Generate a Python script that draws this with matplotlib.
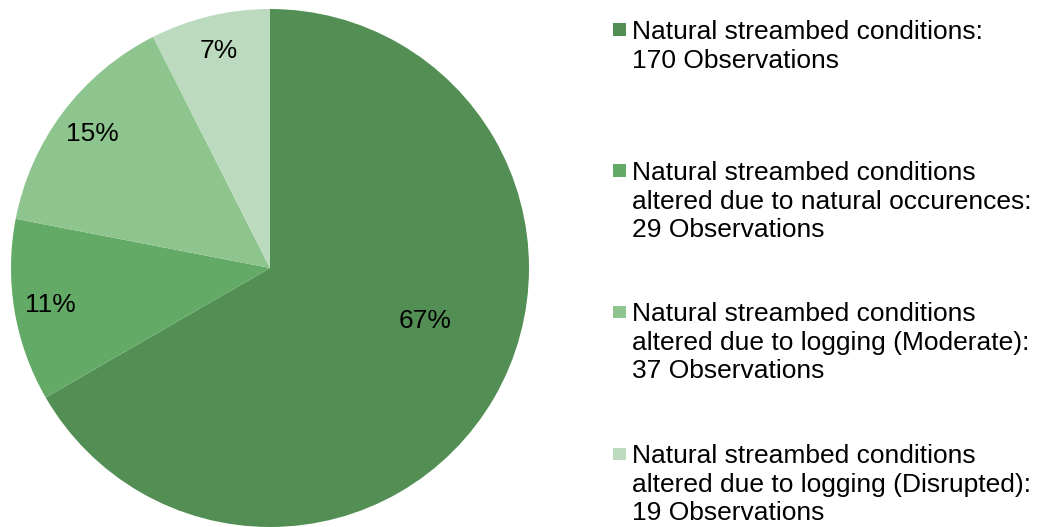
import matplotlib
matplotlib.use("Agg")
import matplotlib.pyplot as plt
from matplotlib.patches import Rectangle

plt.rcParams['font.family'] = ['Liberation Sans', 'DejaVu Sans']

categories = [
    "Natural streambed conditions:\n170 Observations",
    "Natural streambed conditions\naltered due to natural occurences:\n29 Observations",
    "Natural streambed conditions\naltered due to logging (Moderate):\n37 Observations",
    "Natural streambed conditions\naltered due to logging (Disrupted):\n19 Observations",
]
values = [170, 29, 37, 19]
colors = ["#538F55", "#63AA66", "#8EC48E", "#BCDABE"]

W, H = 1039, 527
fig = plt.figure(figsize=(W / 100, H / 100), dpi=100)
ax = fig.add_axes([11 / W, 0 / H, 518 / W, 518 / H])

wedges, texts, autotexts = ax.pie(
    values, colors=colors, startangle=90, counterclock=False,
    autopct=lambda p: f"{p:.0f}%", pctdistance=0.86, radius=1,
    wedgeprops=dict(linewidth=0), textprops=dict(fontsize=19, color="black"))
# Excel "best fit" placement for the large slice label
autotexts[0].set_position((0.60, -0.205))
ax.set_xlim(-1, 1)
ax.set_ylim(-1, 1)
ax.set_aspect('equal')
ax.axis('off')

# legend
tops = [20, 161, 302, 444]
for lab, col, top in zip(categories, colors, tops):
    fig.text(632 / W, 1 - top / H, lab, ha='left', va='top', fontsize=19,
             linespacing=1.25, color='black')
    cy = top + 9.5
    fig.patches.append(Rectangle((613 / W, 1 - (cy + 6) / H), 12.5 / W, 12 / H,
                                 transform=fig.transFigure, facecolor=col,
                                 edgecolor='none'))

fig.savefig("out.png", dpi=100)
